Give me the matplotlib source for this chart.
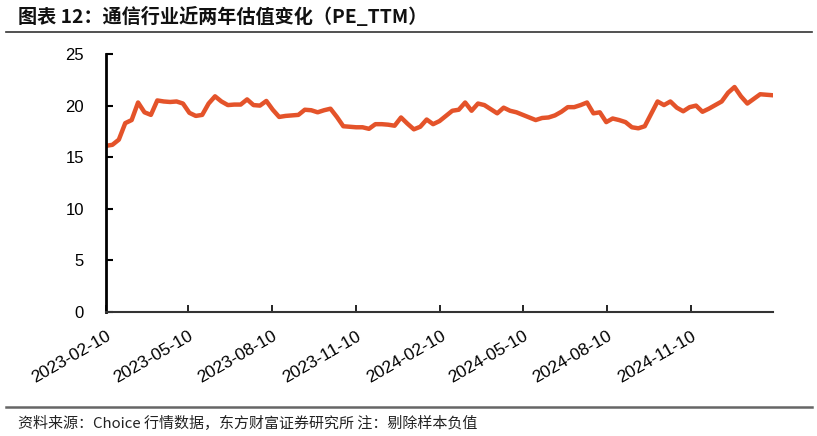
"""Telecom sector PE_TTM over the last two years."""

import matplotlib

matplotlib.use("Agg")
import matplotlib.dates as mdates
import matplotlib.pyplot as plt
import pandas as pd

# weekly PE_TTM readings
start_date = "2023-02-10"
pe_ttm = [
    16.1, 16.2, 16.7, 18.3, 18.6, 20.3, 19.35, 19.1, 20.5, 20.4,
    20.35, 20.4, 20.2, 19.3, 19.0, 19.1, 20.2, 20.9, 20.4, 20.05,
    20.1, 20.1, 20.6, 20.05, 20.0, 20.45, 19.6, 18.9, 19.0, 19.05,
    19.1, 19.6, 19.55, 19.35, 19.55, 19.7, 18.9, 18.0, 17.95, 17.9,
    17.9, 17.75, 18.2, 18.2, 18.15, 18.05, 18.85, 18.25, 17.7, 17.95,
    18.65, 18.2, 18.5, 19.0, 19.5, 19.6, 20.3, 19.5, 20.2, 20.05,
    19.65, 19.25, 19.8, 19.5, 19.35, 19.1, 18.85, 18.6, 18.8, 18.85,
    19.05, 19.4, 19.85, 19.85, 20.05, 20.3, 19.25, 19.35, 18.4, 18.75,
    18.6, 18.4, 17.9, 17.8, 18.0, 19.2, 20.4, 20.05, 20.4, 19.8,
    19.45, 19.85, 20.0, 19.4, 19.7, 20.05, 20.4, 21.25, 21.8, 20.9,
    20.2, 20.65, 21.1, 21.05, 21.0,
]
tick_dates = [
    "2023-02-10", "2023-05-10", "2023-08-10", "2023-11-10",
    "2024-02-10", "2024-05-10", "2024-08-10", "2024-11-10",
]
y_ticks = [0, 5, 10, 15, 20, 25]

title = "图表 12：通信行业近两年估值变化（PE_TTM）"
source = "资料来源：Choice 行情数据，东方财富证券研究所 注：剔除样本负值"

cjk = ["Noto Sans CJK SC", "DejaVu Sans"]
plt.rcParams["font.family"] = ["Liberation Sans", "DejaVu Sans"]

dates = pd.date_range(start_date, periods=len(pe_ttm), freq="7D")

fig = plt.figure(figsize=(8.17, 4.36), dpi=100)
ax = fig.add_axes([106 / 817, 1 - 312 / 436, (773 - 106) / 817, (312 - 54) / 436])

ax.plot(dates, pe_ttm, color="#E4532A", lw=3.2, solid_joinstyle="round")

ax.set_xlim(dates[0], dates[-1])
ax.set_ylim(0, 25)
ax.set_yticks(y_ticks)
ax.set_xticks(pd.to_datetime(tick_dates))
ax.xaxis.set_major_formatter(mdates.DateFormatter("%Y-%m-%d"))

for side in ("top", "right"):
    ax.spines[side].set_visible(False)
ax.spines["left"].set_linewidth(2.0)
ax.spines["left"].set_color("black")
ax.spines["bottom"].set_linewidth(1.5)
ax.spines["bottom"].set_color("#333333")

ax.tick_params(axis="y", direction="in", length=5, width=1.5, pad=16,
               labelsize=12, colors="black")
ax.tick_params(axis="x", direction="in", length=5, width=1.2, pad=12,
               labelsize=12.5, colors="black")
for lbl in ax.get_xticklabels():
    lbl.set_rotation(30)
    lbl.set_ha("right")
    lbl.set_rotation_mode("anchor")

# title, header rule, footer rule and source note
fig.text(18 / 817, 1 - 17 / 436, title, family=cjk, fontsize=13.8,
         fontweight="bold", va="center", ha="left", color="#111111")
fig.add_artist(plt.Line2D([6 / 817, 812 / 817], [1 - 32 / 436] * 2,
                          color="#333333", lw=1.2))
fig.add_artist(plt.Line2D([6 / 817, 812 / 817], [1 - 407 / 436] * 2,
                          color="#666666", lw=1.8))
fig.text(18 / 817, 1 - 423 / 436, source, family=cjk, fontsize=10.8,
         va="center", ha="left", color="#222222")

fig.savefig("out.png", dpi=100)
